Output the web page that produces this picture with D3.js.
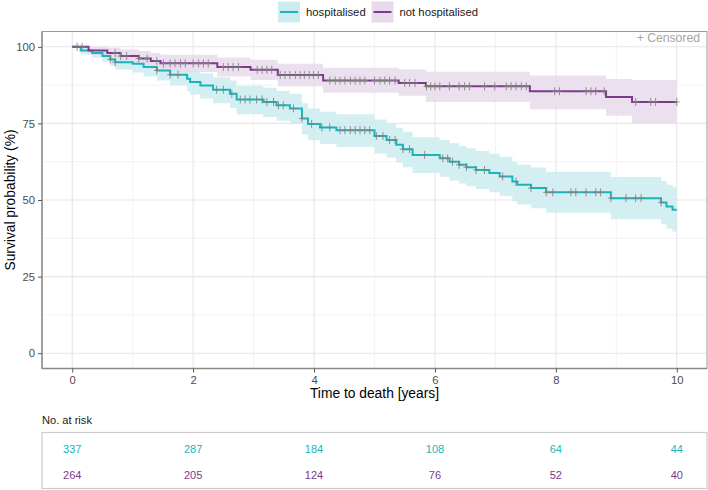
<!DOCTYPE html>
<html><head><meta charset="utf-8">
<script src="https://cdn.jsdelivr.net/npm/d3@7"></script>
<style>body{margin:0;background:#fff;}svg{display:block;font-family:"Liberation Sans",Arial,sans-serif;}</style>
</head><body>
<svg id="chart" width="708" height="490"></svg>
<script>
// ---------- data ----------
const groups = ["hospitalised", "not hospitalised"];
const colors = ["#1AB5BC", "#7D3A8C"];
const bandColors = ["#CDECEF", "#E8DAEA"];

// hospitalised: step times, survival (%), lower and upper CI (%)
const hospTime  = [0, 0.14, 0.33, 0.5, 0.63, 0.71, 1.0, 1.18, 1.4, 1.62, 1.9, 1.95, 2.12, 2.33, 2.61, 2.72, 3.16, 3.38, 3.6, 3.8, 3.9, 4.1, 4.37, 5.0, 5.2, 5.36, 5.47, 5.63, 6.08, 6.24, 6.4, 6.52, 6.68, 6.9, 7.07, 7.28, 7.36, 7.59, 7.84, 8.91, 9.74, 9.83, 9.93];
const hospSurv  = [100, 98.8, 98.0, 97.0, 95.9, 95.0, 94.5, 93.4, 92.3, 90.9, 89.6, 88.5, 87.4, 86.0, 84.7, 82.8, 82.0, 80.9, 79.9, 76.6, 74.8, 73.7, 72.8, 70.9, 69.6, 68.0, 66.6, 64.7, 63.6, 62.5, 61.5, 60.7, 59.8, 58.8, 57.7, 56.0, 55.0, 53.9, 52.5, 50.6, 49.2, 47.9, 46.8];
const hospLower = [100, 97.5, 96.4, 95.1, 93.7, 92.6, 91.6, 90.3, 89.0, 87.4, 85.6, 84.4, 83.1, 81.6, 80.0, 78.0, 77.1, 75.9, 74.8, 71.4, 69.5, 68.3, 67.3, 65.2, 63.8, 62.2, 60.7, 58.8, 57.6, 56.4, 55.4, 54.5, 53.6, 52.5, 51.3, 49.6, 48.5, 47.3, 45.8, 43.7, 42.1, 40.7, 39.7];
const hospUpper = [100, 99.9, 99.5, 98.8, 97.9, 97.2, 96.9, 96.1, 95.3, 94.2, 93.3, 92.3, 91.4, 90.1, 89.0, 87.3, 86.6, 85.6, 84.7, 81.6, 79.9, 78.8, 78.0, 76.3, 75.1, 73.6, 72.3, 70.5, 69.6, 68.5, 67.6, 66.9, 66.0, 65.1, 64.1, 62.5, 61.6, 60.6, 59.2, 57.5, 56.2, 55.0, 54.3];
const hospCensor = [0.63, 0.71, 1.4, 1.62, 1.75, 2.39, 2.5, 2.64, 2.78, 2.86, 2.94, 3.05, 3.14, 3.22, 3.33, 3.41, 3.49, 3.66, 3.8, 3.96, 4.13, 4.26, 4.43, 4.51, 4.6, 4.68, 4.76, 4.84, 4.92, 5.03, 5.14, 5.25, 5.34, 5.47, 5.58, 5.83, 6.13, 6.21, 6.29, 6.4, 6.52, 6.68, 6.82, 7.12, 7.34, 7.59, 7.84, 7.95, 8.25, 8.33, 8.5, 8.66, 8.74, 8.91, 9.16, 9.32, 9.41, 9.74];

// not hospitalised
const notTime  = [0, 0.27, 0.58, 0.8, 1.1, 1.3, 1.46, 2.4, 2.95, 3.4, 4.15, 5.4, 5.85, 7.57, 8.83, 9.26];
const notSurv  = [100, 98.8, 98.0, 97.0, 96.2, 95.4, 94.6, 93.4, 92.5, 90.8, 89.0, 88.2, 87.1, 85.5, 83.6, 82.0];
const notLower = [100, 97.3, 96.2, 94.9, 93.8, 92.8, 91.8, 90.3, 89.2, 87.1, 85.0, 84.0, 82.0, 79.6, 77.5, 75.0];
const notUpper = [100, 100, 99.7, 99.1, 98.6, 98.0, 97.4, 96.5, 95.8, 94.5, 93.2, 92.6, 91.9, 90.6, 89.5, 89.2];
const notCensor = [0.08, 0.165, 0.71, 0.8, 0.9, 1.1, 1.24, 1.4, 1.51, 1.62, 1.7, 1.79, 1.87, 2.0, 2.09, 2.17, 2.25, 2.5, 2.58, 2.66, 2.75, 3.06, 3.14, 3.22, 3.3, 3.44, 3.52, 3.6, 3.69, 3.77, 3.84, 3.92, 3.99, 4.07, 4.26, 4.35, 4.43, 4.51, 4.6, 4.68, 4.76, 4.84, 5.0, 5.09, 5.17, 5.25, 5.34, 5.5, 5.58, 5.67, 5.86, 5.93, 6.0, 6.08, 6.24, 6.4, 6.49, 6.57, 6.82, 6.99, 7.18, 7.26, 7.34, 7.43, 7.51, 7.98, 8.06, 8.5, 8.58, 8.66, 8.8, 9.32, 9.57, 9.65, 10.0];

const endTime = 10;
const xTicks = [0, 2, 4, 6, 8, 10];
const yTicks = [0, 25, 50, 75, 100];
const riskHosp = [337, 287, 184, 108, 64, 44];
const riskNot  = [264, 205, 124, 76, 52, 40];

// ---------- layout ----------
const svg = d3.select("#chart");
const P = {l: 42, r: 707, t: 31.5, b: 368.5};
const x = d3.scaleLinear().domain([-0.5, 10.5]).range([P.l, P.r]);
const y = d3.scaleLinear().domain([-5, 105]).range([P.b, P.t]);
const grey = "#4d4d4d";

// panel grid
const grid = svg.append("g");
[1, 3, 5, 7, 9].forEach(v => grid.append("line").attr("x1", x(v)).attr("x2", x(v)).attr("y1", P.t).attr("y2", P.b).attr("stroke", "#f0f0f0").attr("stroke-width", 0.8));
[12.5, 37.5, 62.5, 87.5].forEach(v => grid.append("line").attr("y1", y(v)).attr("y2", y(v)).attr("x1", P.l).attr("x2", P.r).attr("stroke", "#f0f0f0").attr("stroke-width", 0.8));
xTicks.forEach(v => grid.append("line").attr("x1", x(v)).attr("x2", x(v)).attr("y1", P.t).attr("y2", P.b).attr("stroke", "#e6e6e6").attr("stroke-width", 1.1));
yTicks.forEach(v => grid.append("line").attr("y1", y(v)).attr("y2", y(v)).attr("x1", P.l).attr("x2", P.r).attr("stroke", "#e6e6e6").attr("stroke-width", 1.1));

// curves
function build(times, surv, lo, up) {
  const pts = times.map((t, i) => ({t, s: surv[i], lo: lo[i], up: up[i]}));
  const last = pts[pts.length - 1];
  pts.push({t: endTime, s: last.s, lo: last.lo, up: last.up});
  return pts;
}
const series = [
  build(hospTime, hospSurv, hospLower, hospUpper),
  build(notTime, notSurv, notLower, notUpper)
];
const censors = [hospCensor, notCensor];

const area = d3.area().curve(d3.curveStepAfter).x(d => x(d.t)).y0(d => y(d.lo)).y1(d => y(d.up));
const line = d3.line().curve(d3.curveStepAfter).x(d => x(d.t)).y(d => y(d.s));

series.forEach((pts, i) => {
  svg.append("path").datum(pts).attr("d", area).attr("fill", bandColors[i]).attr("fill-opacity", 0.85);
});
series.forEach((pts, i) => {
  svg.append("path").datum(pts).attr("d", line).attr("fill", "none").attr("stroke", colors[i]).attr("stroke-width", 2);
});
function survAt(pts, t) {
  let s = pts[0].s;
  for (const p of pts) { if (p.t <= t) s = p.s; else break; }
  return s;
}
censors.forEach((cs, i) => {
  const g = svg.append("g").attr("stroke", "#808080").attr("stroke-width", 1).attr("stroke-opacity", 0.85);
  cs.forEach(t => {
    const cx = x(t), cy = y(survAt(series[i], t));
    g.append("line").attr("x1", cx).attr("x2", cx).attr("y1", cy - 4).attr("y2", cy + 4);
    g.append("line").attr("x1", cx - 3).attr("x2", cx + 3).attr("y1", cy).attr("y2", cy);
  });
});

// panel border
svg.append("rect").attr("x", P.l).attr("y", P.t).attr("width", P.r - P.l).attr("height", P.b - P.t)
  .attr("fill", "none").attr("stroke", "#9a9a9a").attr("stroke-width", 1);
svg.append("line").attr("x1", P.l).attr("x2", P.l).attr("y1", P.t).attr("y2", P.b).attr("stroke", "#8a8a8a").attr("stroke-width", 1.3);
svg.append("line").attr("x1", P.l).attr("x2", P.r).attr("y1", P.b).attr("y2", P.b).attr("stroke", "#8a8a8a").attr("stroke-width", 1.3);

// axes
const xAxis = svg.append("g").attr("transform", `translate(0,${P.b})`)
  .call(d3.axisBottom(x).tickValues(xTicks).tickSize(4).tickPadding(3).tickFormat(d3.format("d")));
const yAxis = svg.append("g").attr("transform", `translate(${P.l},0)`)
  .call(d3.axisLeft(y).tickValues(yTicks).tickSize(4).tickPadding(3).tickFormat(d3.format("d")));
[xAxis, yAxis].forEach(a => {
  a.select(".domain").remove();
  a.selectAll(".tick line").attr("stroke", "#555");
  a.selectAll(".tick text").attr("fill", grey).attr("font-size", 11.3).attr("font-family", "Liberation Sans, Arial, sans-serif");
});

svg.append("text").attr("x", (P.l + P.r) / 2).attr("y", 398).attr("text-anchor", "middle")
  .attr("font-size", 13.8).attr("fill", "#000").text("Time to death [years]");
svg.append("text").attr("transform", `translate(15,${(P.t + P.b) / 2}) rotate(-90)`).attr("text-anchor", "middle")
  .attr("font-size", 13.8).attr("fill", "#000").text("Survival probability (%)");

svg.append("text").attr("x", 700).attr("y", 41.5).attr("text-anchor", "end")
  .attr("font-size", 12.2).attr("fill", "#a6a6a6").text("+ Censored");

// legend
const legX = [278, 371.5];
groups.forEach((g, i) => {
  svg.append("rect").attr("x", legX[i]).attr("y", 1.5).attr("width", 22).attr("height", 21).attr("fill", bandColors[i]);
  svg.append("line").attr("x1", legX[i] + 2).attr("x2", legX[i] + 20).attr("y1", 12).attr("y2", 12).attr("stroke", colors[i]).attr("stroke-width", 2);
  svg.append("text").attr("x", legX[i] + 28).attr("y", 16).attr("font-size", 11.3).attr("fill", "#1a1a1a").text(g);
});

// risk table
svg.append("text").attr("x", 42).attr("y", 424).attr("font-size", 11.1).attr("fill", "#1a1a1a").text("No. at risk");
svg.append("rect").attr("x", 42).attr("y", 432.5).attr("width", 665).attr("height", 56).attr("fill", "none").attr("stroke", "#cccccc").attr("stroke-width", 1.2);
[riskHosp, riskNot].forEach((row, i) => {
  svg.append("g").selectAll("text").data(row).join("text")
    .attr("x", (d, j) => x(xTicks[j])).attr("y", [452.5, 478.5][i]).attr("text-anchor", "middle")
    .attr("font-size", 11).attr("fill", colors[i]).text(d => d);
});
</script>
</body></html>
